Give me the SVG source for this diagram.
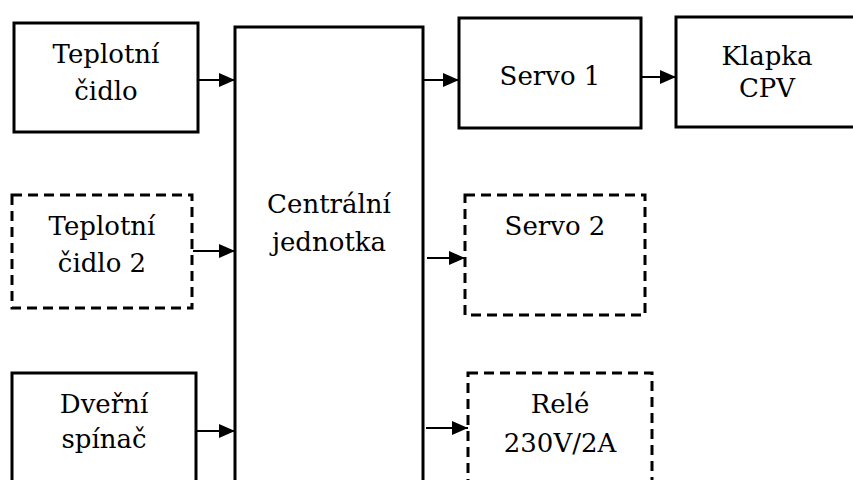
<svg xmlns="http://www.w3.org/2000/svg" width="853" height="480" viewBox="0 0 853 480">
<style>
.box{fill:#fff;stroke:#000;stroke-width:3}
.dash{fill:#fff;stroke:#000;stroke-width:3;stroke-dasharray:10 6}
.lbl{font-family:'DejaVu Serif','Liberation Serif',serif;font-size:26px;fill:#000;text-anchor:middle}
.con{stroke:#000;stroke-width:2.2;fill:none;marker-end:url(#ah)}
</style>
<defs>
<marker id="ah" markerUnits="userSpaceOnUse" markerWidth="16" markerHeight="14" refX="16" refY="7" orient="auto">
<path d="M0,0 L16,7 L0,14 Z" fill="#000"/>
</marker>
</defs>
<rect width="853" height="480" fill="#fff"/>
<g id="central">
<rect class="box" x="235" y="27" width="188" height="470"/>
<text class="lbl" x="329" y="213">Centrální</text>
<text class="lbl" x="329" y="251">jednotka</text>
</g>
<g id="teplotni-cidlo">
<rect class="box" x="14" y="23" width="184" height="109"/>
<text class="lbl" x="106" y="63">Teplotní</text>
<text class="lbl" x="106" y="100">čidlo</text>
</g>
<g id="teplotni-cidlo-2">
<rect class="dash" x="12" y="195" width="180" height="113"/>
<text class="lbl" x="102" y="235">Teplotní</text>
<text class="lbl" x="102" y="272">čidlo 2</text>
</g>
<g id="dverni-spinac">
<rect class="box" x="12" y="373" width="184" height="120"/>
<text class="lbl" x="104" y="413">Dveřní</text>
<text class="lbl" x="104" y="448">spínač</text>
</g>
<g id="servo-1">
<rect class="box" x="459" y="18" width="182" height="110"/>
<text class="lbl" x="550" y="85">Servo 1</text>
</g>
<g id="klapka-cpv">
<rect class="box" x="676" y="17" width="200" height="110"/>
<text class="lbl" x="767" y="65">Klapka</text>
<text class="lbl" x="767" y="97">CPV</text>
</g>
<g id="servo-2">
<rect class="dash" x="465" y="195" width="180" height="120"/>
<text class="lbl" x="555" y="235">Servo 2</text>
</g>
<g id="rele">
<rect class="dash" x="468" y="373" width="184" height="130"/>
<text class="lbl" x="560" y="413">Relé</text>
<text class="lbl" x="560" y="452">230V/2A</text>
</g>
<g id="connectors">
<line class="con" x1="198" y1="80" x2="235" y2="80"/>
<line class="con" x1="193" y1="251" x2="235" y2="251"/>
<line class="con" x1="197" y1="431" x2="235" y2="431"/>
<line class="con" x1="424" y1="80" x2="459" y2="80"/>
<line class="con" x1="642" y1="77" x2="676" y2="77"/>
<line class="con" x1="427" y1="258" x2="465" y2="258"/>
<line class="con" x1="426" y1="428" x2="468" y2="428"/>
</g>
</svg>
